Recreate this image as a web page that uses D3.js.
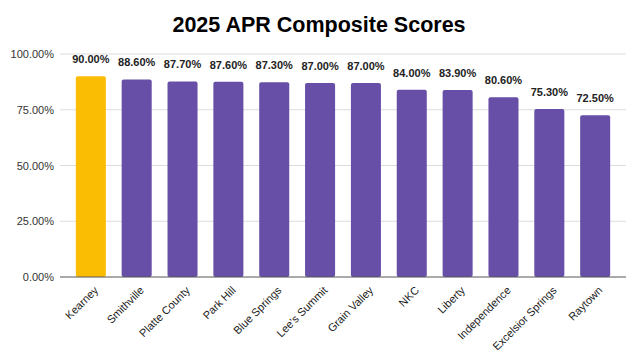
<!DOCTYPE html>
<html><head><meta charset="utf-8">
<script src="https://cdn.jsdelivr.net/npm/d3@7"></script>
<style>body{margin:0;background:#fff;} text{font-family:"Liberation Sans",Arial,sans-serif;}</style>
</head><body><svg id="c" width="644" height="358"></svg>
<script>
const categories = ["Kearney","Smithville","Platte County","Park Hill","Blue Springs","Lee's Summit","Grain Valley","NKC","Liberty","Independence","Excelsior Springs","Raytown"];
const values = [90.0,88.6,87.7,87.6,87.3,87.0,87.0,84.0,83.9,80.6,75.3,72.5];
const yTicks = [0,25,50,75,100];
const highlight = "Kearney";

(function(){
const svg = d3.select("#c");
const plotTop = 54, plotBottom = 277, gLeft = 60, gRight = 626;
const x = d3.scaleBand().domain(categories).range([gLeft, gRight]).paddingInner(0.345).paddingOuter(0.345);
const y = d3.scaleLinear().domain([0,100]).range([plotBottom, plotTop]);

svg.append("text").attr("x", 319).attr("y", 32).attr("text-anchor","middle")
  .attr("font-size", 21.5).attr("font-weight","bold").attr("fill","#000").text("2025 APR Composite Scores");

const yAxis = d3.axisLeft(y).tickValues(yTicks).tickFormat(d => d.toFixed(2)+"%").tickSize(0).tickPadding(6);
const ga = svg.append("g").attr("transform",`translate(${gLeft},0)`).call(yAxis);
ga.select(".domain").remove();
ga.selectAll("text").attr("font-size",11).attr("fill","#333").attr("font-family","Liberation Sans, Arial, sans-serif");

svg.append("g").selectAll("line").data(yTicks.filter(d=>d>0)).join("line")
  .attr("x1", gLeft).attr("x2", gRight).attr("y1", d=>y(d)).attr("y2", d=>y(d))
  .attr("stroke","#dcdcdc").attr("stroke-width",1);

svg.append("g").selectAll("rect").data(categories).join("rect")
  .attr("x", d=>x(d)).attr("width", x.bandwidth())
  .attr("y", (d,i)=>y(values[i])).attr("height",(d,i)=>y(0)-y(values[i]))
  .attr("rx",2)
  .attr("fill", d=> d===highlight ? "#fbbc04" : "#674ea7");

svg.append("line").attr("x1",gLeft).attr("x2",gRight).attr("y1",y(0)).attr("y2",y(0)).attr("stroke","#555").attr("stroke-width",1);

svg.append("g").selectAll("text").data(categories).join("text")
  .attr("x", d=>x(d)+x.bandwidth()/2).attr("y",(d,i)=>y(values[i])-13)
  .attr("text-anchor","middle").attr("font-size",11).attr("font-weight","bold").attr("fill","#222")
  .text((d,i)=>values[i].toFixed(2)+"%");

const xAxis = d3.axisBottom(x).tickSize(0).tickPadding(0);
const gx = svg.append("g").attr("transform",`translate(0,${plotBottom})`).call(xAxis);
gx.select(".domain").remove();
gx.selectAll("text").attr("font-size",11).attr("fill","#222").attr("font-family","Liberation Sans, Arial, sans-serif")
  .attr("text-anchor","end").attr("dy",0).attr("dx",0)
  .attr("transform","translate(8,14) rotate(-45)");
})();
</script></body></html>
